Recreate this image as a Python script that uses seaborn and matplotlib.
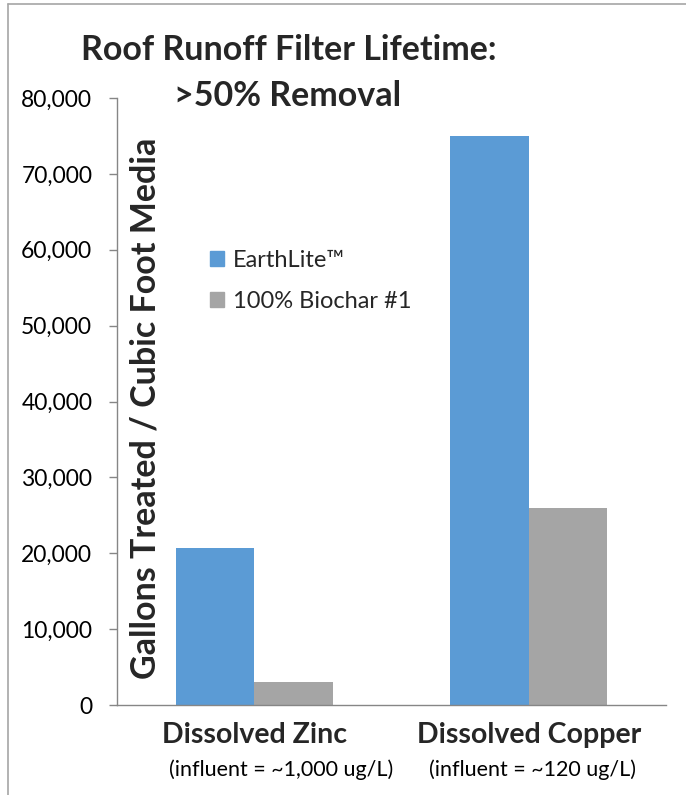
import matplotlib
matplotlib.use("Agg")
import matplotlib.pyplot as plt
import seaborn as sns
import pandas as pd
from matplotlib.lines import Line2D
from matplotlib.ticker import FuncFormatter

categories = ["Dissolved Zinc", "Dissolved Copper"]
subtitles = ["(influent = ~1,000 ug/L)", "(influent = ~120 ug/L)"]
series = ["EarthLite\u2122", "100% Biochar #1"]
earthlite = [20700, 75000]
biochar = [3000, 26000]
colors = ["#5B9BD5", "#A5A5A5"]

df = pd.DataFrame({
    "category": categories * 2,
    "series": [series[0]] * 2 + [series[1]] * 2,
    "value": earthlite + biochar,
})

sns.set_theme(style="white")
plt.rcParams["font.family"] = ["Lato", "DejaVu Sans"]

fig = plt.figure(figsize=(6.86, 7.95), dpi=100)
ax = fig.add_axes([117/686, 1-705/795, 549/686, 607/795])

sns.barplot(data=df, x="category", y="value", hue="series", order=categories,
            hue_order=series, palette=colors, width=0.572, saturation=1,
            edgecolor="none", linewidth=0, ax=ax)

ax.set_xlim(-0.5, 1.5)
ax.set_ylim(0, 80000)
ax.set_yticks(range(0, 80001, 10000))
ax.yaxis.set_major_formatter(FuncFormatter(lambda v, p: f"{int(v):,}"))
ax.tick_params(axis="y", which="major", direction="out", length=5.8, width=1,
               color="#868686", labelsize=16.5, pad=12, left=True, labelcolor="#000000")
ax.tick_params(axis="x", length=0, pad=12, labelsize=20.5)
for lab in ax.get_xticklabels():
    lab.set_fontweight("bold")
for s in ["top", "right"]:
    ax.spines[s].set_visible(False)
for s in ["left", "bottom"]:
    ax.spines[s].set_color("#868686")
    ax.spines[s].set_linewidth(1)
ax.set_xlabel("")
ax.set_ylabel("")

# subtitles under category labels (small horizontal offsets as in the original)
sub_offsets_pt = [19.5, 3]
trans = ax.get_xaxis_transform()
for i, sub in enumerate(subtitles):
    ax.annotate(sub, xy=(ax.get_xticks()[i], -0.107), xycoords=trans,
                xytext=(sub_offsets_pt[i], 0), textcoords="offset points",
                ha="center", va="center", fontsize=15.5, color="#000000",
                annotation_clip=False)

# y label inside the plot
ax.text(0.052, 0.4885, "Gallons Treated / Cubic Foot Media", transform=ax.transAxes,
        rotation=90, ha="center", va="center", fontsize=24.5, fontweight="bold")

# title
fig.text(288.5/686, 1-59.5/795, "Roof Runoff Filter Lifetime:", ha="center", va="baseline",
         fontsize=24.5, fontweight="bold")
fig.text(288/686, 1-106/795, ">50% Removal", ha="center", va="baseline",
         fontsize=24.5, fontweight="bold")

# legend
handles = [plt.Rectangle((0, 0), 1, 1, color=c) for c in colors]
leg = ax.legend(handles, series, loc="upper left", bbox_to_anchor=(0.169, 0.750),
                frameon=False, fontsize=17, handlelength=0.6, handleheight=0.6,
                handletextpad=0.37, labelspacing=0.865, borderaxespad=0, borderpad=0)

# outer chart border
fig.add_artist(Line2D([7.5/686, 7.5/686], [0, 1-4/795], color="#A6A6A6", lw=1.2,
                      transform=fig.transFigure))
fig.add_artist(Line2D([7.5/686, 1], [1-4/795, 1-4/795], color="#A6A6A6", lw=1.2,
                      transform=fig.transFigure))

fig.savefig("out.png", dpi=100)
